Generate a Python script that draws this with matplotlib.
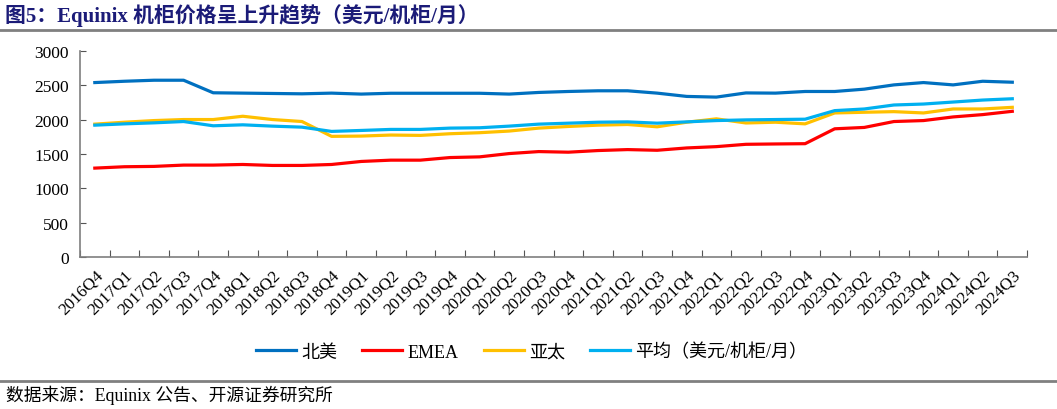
import matplotlib
matplotlib.use('Agg')
import matplotlib.pyplot as plt
import numpy as np
from matplotlib.lines import Line2D

# 字体：西文用 Times 风格，中文回退到 Noto Sans CJK
plt.rcParams['font.family'] = ['Liberation Serif', 'Noto Sans CJK SC']
plt.rcParams['axes.unicode_minus'] = False

# 数据（美元/机柜/月）
quarters = ['2016Q4', '2017Q1', '2017Q2', '2017Q3', '2017Q4', '2018Q1', '2018Q2', '2018Q3',
            '2018Q4', '2019Q1', '2019Q2', '2019Q3', '2019Q4', '2020Q1', '2020Q2', '2020Q3',
            '2020Q4', '2021Q1', '2021Q2', '2021Q3', '2021Q4', '2022Q1', '2022Q2', '2022Q3',
            '2022Q4', '2023Q1', '2023Q2', '2023Q3', '2023Q4', '2024Q1', '2024Q2', '2024Q3']
na = [2541, 2560, 2575, 2575, 2392, 2387, 2382, 2377, 2387, 2373, 2385, 2385,
      2385, 2385, 2373, 2397, 2411, 2421, 2421, 2387, 2339, 2329, 2390, 2387,
      2411, 2411, 2445, 2507, 2541, 2507, 2560, 2546]
emea = [1294, 1314, 1319, 1338, 1338, 1347, 1333, 1333, 1347, 1391, 1410, 1410,
        1448, 1458, 1506, 1535, 1526, 1550, 1564, 1554, 1588, 1607, 1641, 1646,
        1650, 1867, 1887, 1973, 1987, 2040, 2074, 2122]
apac = [1935, 1963, 1987, 2002, 2002, 2050, 2002, 1973, 1757, 1761, 1776, 1771,
        1795, 1810, 1834, 1877, 1901, 1920, 1930, 1896, 1963, 2012, 1952, 1963,
        1939, 2098, 2108, 2117, 2098, 2156, 2156, 2180]
avg = [1920, 1939, 1954, 1973, 1911, 1925, 1906, 1891, 1829, 1843, 1858, 1858,
       1877, 1882, 1906, 1935, 1949, 1963, 1968, 1949, 1968, 1987, 1997, 2002,
       2007, 2132, 2156, 2214, 2228, 2257, 2286, 2305]

series = [('北美', na, '#0070C0'),
          ('EMEA', emea, '#FF0000'),
          ('亚太', apac, '#FFC000'),
          ('平均（美元/机柜/月）', avg, '#00B0F0')]

fig = plt.figure(figsize=(10.57, 4.10), dpi=100)
ax = fig.add_axes([0.0757, 0.371, 0.896, 0.502])

x = np.arange(len(quarters))
handles = []
for name, vals, color in series:
    line, = ax.plot(x, vals, color=color, linewidth=2.3, label=name)
    handles.append(line)

ax.set_xlim(-0.5, len(quarters) - 0.5)
ax.set_ylim(0, 3000)
ax.set_yticks(np.arange(0, 3001, 500))
ax.tick_params(axis='y', direction='in', length=4, labelsize=12.5, pad=8, color='#555555')

# 刻度线在分类边界，标签在中间
ax.set_xticks(np.arange(-0.5, len(quarters)), minor=False)
ax.set_xticklabels([])
ax.set_xticks(x, minor=True)
ax.set_xticklabels(quarters, minor=True, rotation=45, ha='right', rotation_mode='anchor', fontsize=12.3)
ax.tick_params(axis='x', which='major', direction='in', length=5, color='#555555')
ax.tick_params(axis='x', which='minor', length=0, pad=7)

for s in ['top', 'right']:
    ax.spines[s].set_visible(False)
for s in ['left', 'bottom']:
    ax.spines[s].set_color('#7F7F7F')
    ax.spines[s].set_linewidth(1.2)

# 标题
fig.text(0.005, 0.962, '图5：Equinix 机柜价格呈上升趋势（美元/机柜/月）', fontsize=15,
         fontweight='bold', color='#1B1B78', ha='left', va='center')
fig.add_artist(Line2D([0, 1], [0.925, 0.925], color='#808080', linewidth=2, transform=fig.transFigure))

# 图例
fig.legend(handles=handles, loc='center', bbox_to_anchor=(0.503, 0.139), ncol=4, frameon=False,
           fontsize=13, handlelength=2.2, handletextpad=0.3, columnspacing=1.4)

# 来源
fig.add_artist(Line2D([0, 1], [0.069, 0.069], color='#808080', linewidth=2, transform=fig.transFigure))
fig.text(0.006, 0.037, '数据来源：Equinix 公告、开源证券研究所', fontsize=12.8, ha='left', va='center')

fig.savefig('out.png', dpi=100, facecolor='white')
